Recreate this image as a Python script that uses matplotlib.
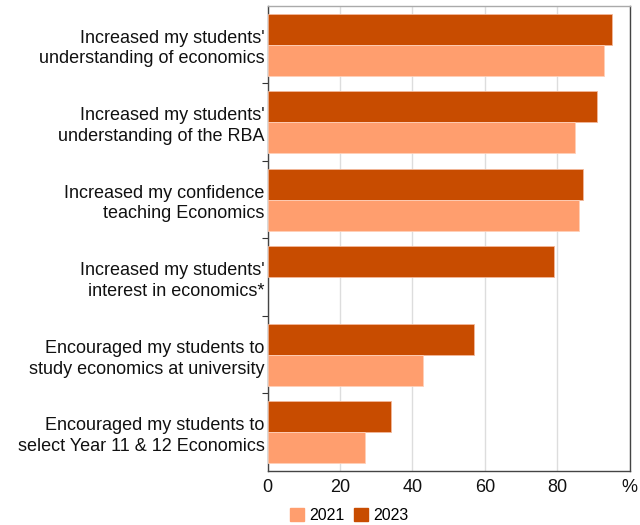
import matplotlib
matplotlib.use("Agg")
import matplotlib.pyplot as plt
import numpy as np
from matplotlib.patches import Patch

plt.rcParams['font.family'] = ['Liberation Sans', 'DejaVu Sans']

categories = [
    "Increased my students'\nunderstanding of economics",
    "Increased my students'\nunderstanding of the RBA",
    "Increased my confidence\nteaching Economics",
    "Increased my students'\ninterest in economics*",
    "Encouraged my students to\nstudy economics at university",
    "Encouraged my students to\nselect Year 11 & 12 Economics",
]
values_2021 = [93, 85, 86, np.nan, 43, 27]
values_2023 = [95, 91, 87, 79, 57, 34]
x_ticks = [0, 20, 40, 60, 80, 100]
x_tick_labels = ["0", "20", "40", "60", "80", "%"]

c2021 = "#FF9E6E"
c2023 = "#C84C00"

fig = plt.figure(figsize=(6.4, 5.25), dpi=100)
ax = fig.add_axes([0.418, 0.103, 0.566, 0.886])

n = len(categories)
centers = np.arange(n) + 0.5
h = 0.4
ax.barh(centers - h / 2, values_2023, height=h, color=c2023,
        edgecolor="#F3B89A", linewidth=0.6, zorder=3)
ax.barh(centers + h / 2, values_2021, height=h, color=c2021,
        edgecolor="#FFD0B8", linewidth=0.6, zorder=3)

ax.set_ylim(n, 0)
ax.set_xlim(0, 100)

# group boundaries carry the tick marks, labels sit at group centres
ax.set_yticks(np.arange(1, n))
ax.set_yticklabels([])
ax.tick_params(axis="y", which="major", length=4, width=0.8, color="#333333",
               direction="out")
ax.set_yticks(centers, minor=True)
ax.set_yticklabels(categories, minor=True, fontsize=13, ha="right",
                   color="#111111", linespacing=1.3)
ax.tick_params(axis="y", which="minor", length=0, pad=2)

ax.set_xticks(x_ticks)
ax.set_xticklabels(x_tick_labels, fontsize=13, color="#111111")
ax.tick_params(axis="x", length=0, pad=6)
ax.xaxis.grid(True, color="#DDDDDD", linewidth=1.0, zorder=0)
ax.set_axisbelow(True)

for side in ("left", "bottom", "right"):
    ax.spines[side].set_color("#444444")
    ax.spines[side].set_linewidth(1.0)
ax.spines["top"].set_color("#AAAAAA")
ax.spines["top"].set_linewidth(1.0)

handles = [Patch(color=c2021, label="2021"), Patch(color=c2023, label="2023")]
fig.legend(handles=handles, loc="lower center", ncol=2, frameon=False,
           bbox_to_anchor=(0.545, -0.024), fontsize=11.5, handlelength=0.9,
           handleheight=0.9, handletextpad=0.3, columnspacing=0.6)

fig.savefig("out.png", dpi=100)
